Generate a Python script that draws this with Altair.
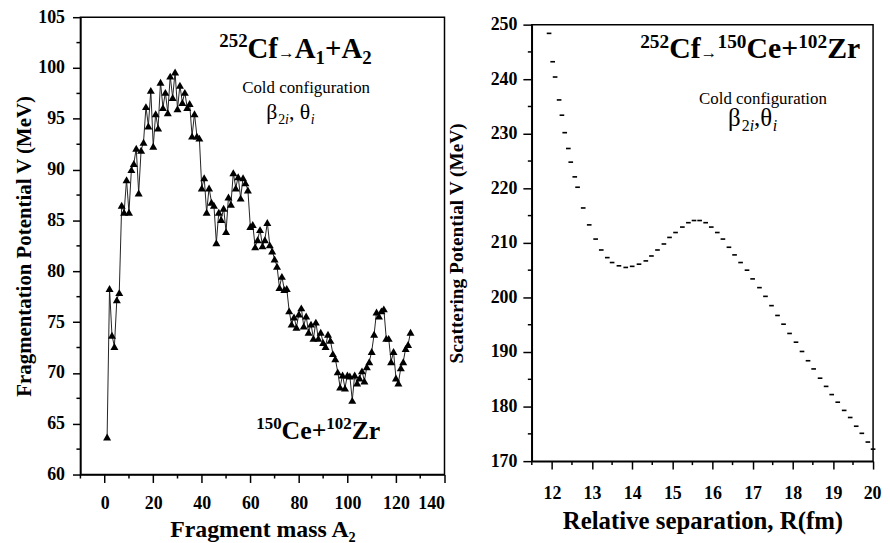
import altair as alt
import pandas as pd

# ---- Left panel data: fragmentation potential vs fragment mass A2 ----
mass = list(range(1, 127))
frag_v = [63.7, 78.3, 73.7, 72.6, 77.2, 77.9, 86.5, 85.8, 89.0, 85.8,
          90.0, 90.6, 92.1, 87.7, 91.9, 92.7, 96.2, 94.3, 97.8, 92.3,
          95.5, 94.1, 98.6, 96.1, 97.6, 95.6, 99.2, 97.1, 99.6, 96.0,
          98.3, 96.6, 97.6, 96.1, 96.5, 93.3, 95.5, 93.3, 93.1, 88.2,
          89.2, 85.8, 88.2, 86.8, 86.5, 82.8, 85.8, 85.1, 86.2, 83.9,
          87.3, 86.6, 89.7, 88.2, 89.3, 87.2, 89.2, 88.7, 88.0, 84.4,
          84.6, 82.4, 83.1, 84.1, 82.5, 83.1, 84.8, 82.6, 82.0, 81.2,
          80.5, 78.4, 79.5, 78.2, 78.3, 76.1, 74.8, 75.5, 74.5, 75.8,
          76.4, 74.6, 75.6, 74.0, 74.8, 73.4, 75.0, 73.4, 74.0, 73.0,
          72.6, 73.8, 73.2, 71.9, 71.4, 70.1, 68.6, 69.8, 68.5, 69.8,
          69.7, 67.3, 69.8, 69.0, 69.5, 70.2, 69.2, 70.6, 71.1, 72.1,
          73.8, 76.0, 75.6, 76.1, 76.3, 73.4, 73.4, 71.1, 72.1, 69.5,
          69.0, 70.5, 71.1, 72.4, 72.8, 74.0]

# ---- Right panel data: scattering potential vs separation R ----
sep_r = [11.93, 12.02, 12.08, 12.18, 12.25, 12.32, 12.41, 12.47, 12.57, 12.64,
         12.78, 12.93, 13.09, 13.23, 13.38, 13.50, 13.67, 13.84, 14.00, 14.17,
         14.34, 14.48, 14.63, 14.79, 14.93, 15.08, 15.25, 15.40, 15.54, 15.68,
         15.83, 15.97, 16.12, 16.26, 16.41, 16.55, 16.70, 16.86, 17.00, 17.17,
         17.32, 17.47, 17.62, 17.77, 17.92, 18.08, 18.23, 18.38, 18.52, 18.68,
         18.83, 18.97, 19.12, 19.28, 19.43, 19.58, 19.72, 19.87, 20.00]
scat_v = [248.4, 243.2, 240.4, 236.2, 233.4, 230.2, 227.3, 224.8, 222.1, 220.2,
          216.4, 213.3, 210.7, 208.7, 207.3, 206.4, 205.8, 205.5, 205.7, 206.1,
          206.7, 207.6, 208.7, 209.8, 211.0, 211.9, 212.9, 213.7, 214.1, 214.1,
          213.7, 212.9, 211.9, 210.7, 209.2, 207.8, 206.4, 205.0, 203.4, 201.8,
          200.2, 198.5, 196.7, 195.1, 193.4, 191.8, 190.1, 188.4, 186.9, 185.2,
          183.7, 182.2, 180.8, 179.3, 178.0, 176.4, 175.1, 173.5, 172.2]

# ---- Tick values ----
left_x_major = [0, 20, 40, 60, 80, 100, 120, 140]
left_x_minor = [-10, 10, 30, 50, 70, 90, 110, 130]
left_y_major = [60, 65, 70, 75, 80, 85, 90, 95, 100, 105]
left_y_minor = [62.5, 67.5, 72.5, 77.5, 82.5, 87.5, 92.5, 97.5, 102.5]
right_x_major = [12, 13, 14, 15, 16, 17, 18, 19, 20]
right_x_minor = [11.5, 12.5, 13.5, 14.5, 15.5, 16.5, 17.5, 18.5, 19.5]
right_y_major = [170, 180, 190, 200, 210, 220, 230, 240, 250]
right_y_minor = [175, 185, 195, 205, 215, 225, 235, 245]

FONT = "Liberation Serif, Times New Roman, serif"

AX = dict(grid=False, format="d", domainColor="black", domainWidth=1.5,
          tickColor="black", tickWidth=1.5,
          labelFont=FONT, labelFontSize=18, labelFontWeight="bold", labelColor="black",
          titleFont=FONT, titleFontWeight="bold", titleColor="black")

# approximate advance widths (em) for the serif font, used to lay out rich text
EM_BOLD = {"C": 0.722, "f": 0.333, "e": 0.444, "r": 0.444, "Z": 0.667,
           "A": 0.722, "+": 0.570, "→": 1.0}
EM_REG = {"i": 0.278, ",": 0.25, " ": 0.25, "β": 0.55, "θ": 0.5, "→": 1.0}


def seg_width(text, size, weight):
    table = EM_BOLD if weight == "bold" else EM_REG
    return sum(table.get(c, 0.5) for c in text) * size


def rich(segs, xv, yv, xs, ys):
    """segs: list of (text, fontSize, dy, weight, style); centred at (xv, yv) baseline."""
    widths = [seg_width(t, s, w) for t, s, dy, w, st in segs]
    x0 = -sum(widths) / 2
    df = pd.DataFrame({"x": [xv], "y": [yv]})
    layers = []
    for (t, s, dy, w, st), wd in zip(segs, widths):
        layers.append(alt.Chart(df).mark_text(
            text=t, font=FONT, fontSize=s, fontWeight=w, fontStyle=st,
            color="black", align="left", baseline="alphabetic", dx=x0, dy=dy
        ).encode(x=alt.X("x:Q", scale=xs), y=alt.Y("y:Q", scale=ys)))
        x0 += wd
    return layers


# ---- Left panel ----
LW, LH = 367, 461
lx = alt.Scale(domain=[-10, 140], nice=False, zero=False)
ly = alt.Scale(domain=[60, 105], nice=False, zero=False)

df_left = pd.DataFrame({"A2": mass, "V": frag_v})

x_axis_l = alt.Axis(values=left_x_major, title="Fragment mass A₂", tickSize=8,
                    labelPadding=12, titlePadding=5, titleFontSize=24, **AX)
y_axis_l = alt.Axis(values=left_y_major, title="Fragmentation Potential V (MeV)",
                    tickSize=8, labelPadding=8, titlePadding=3, titleFontSize=21, **AX)

left_line = alt.Chart(df_left).mark_line(color="#222222", strokeWidth=1).encode(
    x=alt.X("A2:Q", scale=lx, axis=x_axis_l),
    y=alt.Y("V:Q", scale=ly, axis=y_axis_l),
)
left_pts = alt.Chart(df_left).mark_point(shape="triangle-up", filled=True,
                                          color="black", size=65, opacity=1).encode(
    x=alt.X("A2:Q", scale=lx), y=alt.Y("V:Q", scale=ly))

lxm = alt.Chart(pd.DataFrame({"t": left_x_minor})).mark_rule(color="black", strokeWidth=1.5).encode(
    x=alt.X("t:Q", scale=lx), y=alt.value(LH), y2=alt.value(LH + 4))
lym = alt.Chart(pd.DataFrame({"t": left_y_minor})).mark_rule(color="black", strokeWidth=1.5).encode(
    y=alt.Y("t:Q", scale=ly), x=alt.value(0), x2=alt.value(-4))

B, N = "bold", "normal"
left_texts = []
left_texts += rich([("252", 19, -11, B, N), ("Cf", 29, 0, B, N), ("→", 17, 0, N, N),
                    ("A", 29, 0, B, N), ("1", 19, 6, B, N), ("+A", 29, 0, B, N),
                    ("2", 19, 6, B, N)], 78.6, 101.0, lx, ly)
left_texts += rich([("Cold configuration", 17, 0, N, N)], 85.5, 97.5, lx, ly)
left_texts += rich([("β", 22, 0, N, N), ("2", 14, 5, N, N), ("i", 14, 5, N, "italic"),
                    (" ,", 22, 0, N, N), ("θ", 22, 0, N, N), ("i", 14, 5, N, "italic")],
                   76.5, 95.0, lx, ly)
left_texts += rich([("150", 17, -10, B, N), ("Ce+", 26, 0, B, N), ("102", 17, -10, B, N),
                    ("Zr", 26, 0, B, N)], 88.0, 63.5, lx, ly)

left = alt.layer(left_line, left_pts, lxm, lym, *left_texts).properties(width=LW, height=LH)

# ---- Right panel ----
RW, RH = 344, 440
rx = alt.Scale(domain=[11.5, 20], nice=False, zero=False)
ry = alt.Scale(domain=[170, 250], nice=False, zero=False)

df_right = pd.DataFrame({"R": sep_r, "V": scat_v})
x_axis_r = alt.Axis(values=right_x_major, title="Relative separation, R(fm)", tickSize=8,
                    labelPadding=16, titlePadding=6, titleFontSize=25,
                    labelFlush=True, labelFlushOffset=8, **AX)
y_axis_r = alt.Axis(values=right_y_major, title="Scattering Potential V (MeV)",
                    tickSize=9, labelPadding=6, titlePadding=24, titleFontSize=19.5, **AX)

right_dots = alt.Chart(df_right).mark_point(
    shape="M-1,-0.35L1,-0.35L1,0.35L-1,0.35Z", filled=True, color="black",
    size=22, opacity=1).encode(
    x=alt.X("R:Q", scale=rx, axis=x_axis_r),
    y=alt.Y("V:Q", scale=ry, axis=y_axis_r))

rxm = alt.Chart(pd.DataFrame({"t": right_x_minor})).mark_rule(color="black", strokeWidth=1.5).encode(
    x=alt.X("t:Q", scale=rx), y=alt.value(RH), y2=alt.value(RH + 4))
rym = alt.Chart(pd.DataFrame({"t": right_y_minor})).mark_rule(color="black", strokeWidth=1.5).encode(
    y=alt.Y("t:Q", scale=ry), x=alt.value(0), x2=alt.value(-4))

right_texts = []
right_texts += rich([("252", 19.5, -11, B, N), ("Cf", 30, 0, B, N), ("→", 17, 0, N, N),
                     ("150", 19.5, -11, B, N), ("Ce+", 30, 0, B, N),
                     ("102", 19.5, -11, B, N), ("Zr", 30, 0, B, N)], 16.94, 243.8, rx, ry)
right_texts += rich([("Cold configuration", 17, 0, N, N)], 17.41, 235.5, rx, ry)
right_texts += rich([("β", 25, 0, N, N), ("2", 16, 5, N, N), ("i", 16, 5, N, "italic"),
                     (",", 25, 0, N, N), ("θ", 25, 0, N, N), ("i", 16, 5, N, "italic")],
                    17.0, 231.4, rx, ry)

right = alt.layer(right_dots, rxm, rym, *right_texts).properties(width=RW, height=RH)

chart = alt.hconcat(left, right, spacing=-1, center=True).properties(
    padding={"left": 5, "top": -3, "right": 0, "bottom": 0}
).configure(
    background="white",
    font=FONT,
).configure_view(
    stroke="black", strokeWidth=1.5
)

chart.save("out.html", embed_options={"renderer": "svg", "actions": False})
